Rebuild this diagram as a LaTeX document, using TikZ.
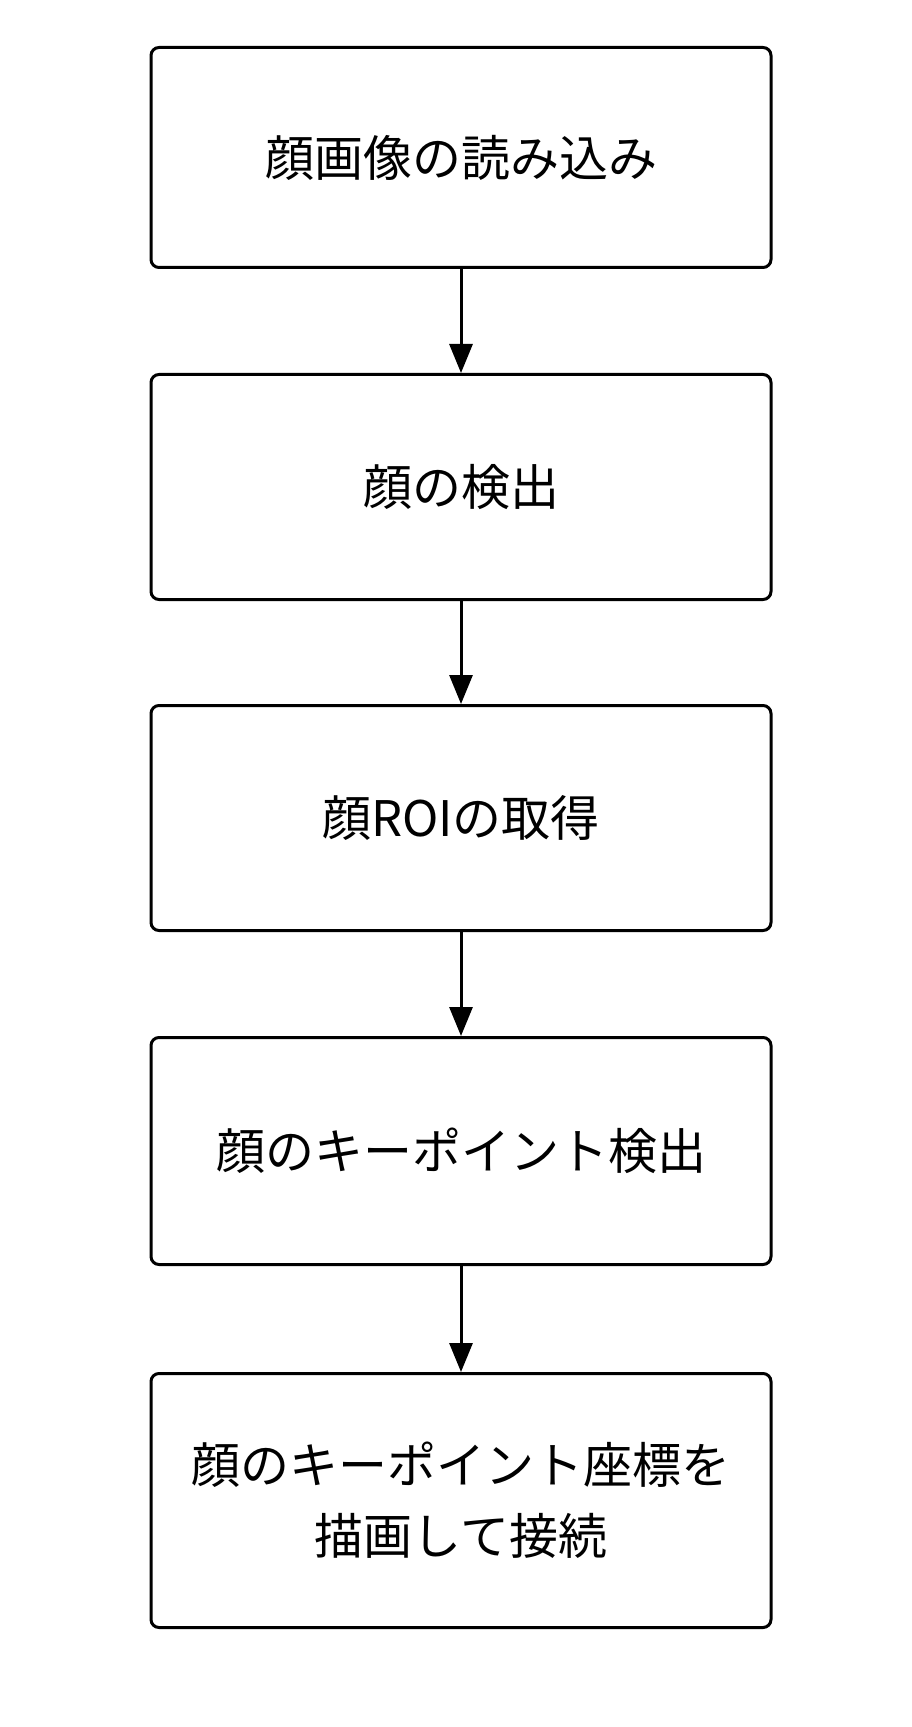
\documentclass[tikz,border=0pt]{standalone}
\usepackage{fontspec}
\setmainfont{Noto Sans CJK JP}
\usetikzlibrary{arrows.meta}
\begin{document}
\begin{tikzpicture}[x=0.5pt,y=-0.5pt,
  stepbox/.style={draw=black,line width=1.5pt,rounded corners=4pt,fill=white,
    minimum width=310pt,inner sep=0pt,align=center,
    font=\fontsize{24.5pt}{35.5pt}\selectfont},
  flow/.style={line width=1.5pt,-{Triangle[width=11.5pt,length=14.5pt]}}]
\useasboundingbox (0,0) rectangle (911,1727);
\fill[white] (0,0) rectangle (911,1727);
\node[stepbox,minimum height=110pt] (b1) at (461,157.5) {顔画像の読み込み};
\node[stepbox,minimum height=112.5pt] (b2) at (461,487) {顔の検出};
\node[stepbox,minimum height=112.5pt] (b3) at (461,818) {顔ROIの取得};
\node[stepbox,minimum height=113.5pt] (b4) at (461,1151) {顔のキーポイント検出};
\node[stepbox,minimum height=127pt] (b5) at (461,1500.5) {顔のキーポイント座標を\\描画して接続};
\draw[flow] (b1) -- (b2);
\draw[flow] (b2) -- (b3);
\draw[flow] (b3) -- (b4);
\draw[flow] (b4) -- (b5);
\end{tikzpicture}
\end{document}
